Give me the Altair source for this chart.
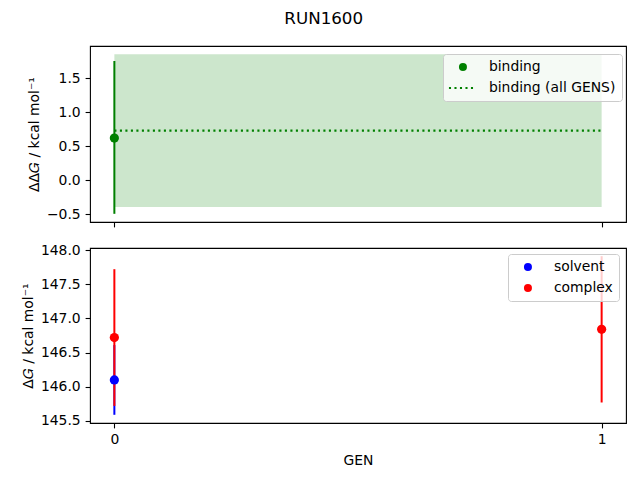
import altair as alt
import pandas as pd

# ---- data ----
binding_gen = [0]
binding_val = [0.62]
binding_lo = [-0.49]
binding_hi = [1.75]

allgens_x = [0, 1]
allgens_val = [0.73, 0.73]
allgens_lo = [-0.39, -0.39]
allgens_hi = [1.85, 1.85]

solvent_gen = [0]
solvent_val = [146.10]
solvent_lo = [145.59]
solvent_hi = [146.61]

complex_gen = [0, 1]
complex_val = [146.72, 146.84]
complex_lo = [145.72, 145.77]
complex_hi = [147.72, 147.91]

gen_ticks = [0, 1]
top_ticks = [-0.5, 0.0, 0.5, 1.0, 1.5]
bot_ticks = [145.5, 146.0, 146.5, 147.0, 147.5, 148.0]

FONT = "DejaVu Sans"
FS = 13.9
W, H = 536, 176

df_bind = pd.DataFrame({"gen": binding_gen, "val": binding_val, "lo": binding_lo,
                        "hi": binding_hi, "label": ["binding"] * len(binding_gen)})
df_all = pd.DataFrame({"gen": allgens_x, "val": allgens_val, "lo": allgens_lo, "hi": allgens_hi})
df_solv = pd.DataFrame({"gen": solvent_gen, "val": solvent_val, "lo": solvent_lo,
                        "hi": solvent_hi, "label": ["solvent"] * len(solvent_gen)})
df_cplx = pd.DataFrame({"gen": complex_gen, "val": complex_val, "lo": complex_lo,
                        "hi": complex_hi, "label": ["complex"] * len(complex_gen)})
df_pts = pd.concat([df_solv, df_cplx], ignore_index=True)

xscale = alt.Scale(domain=[-0.05, 1.05], nice=False, zero=False)
x_top = alt.X("gen:Q", scale=xscale,
              axis=alt.Axis(values=gen_ticks, labels=False, title=None))
x_bot = alt.X("gen:Q", scale=xscale,
              axis=alt.Axis(values=gen_ticks, format="d", title="GEN", titlePadding=7))

ytop_scale = alt.Scale(domain=[-0.61, 1.97], nice=False, zero=False)
ybot_scale = alt.Scale(domain=[145.47, 148.03], nice=False, zero=False)
ytop_axis = alt.Axis(values=top_ticks, format=".1f", title="ΔΔ𝐺 / kcal mol⁻¹", titlePadding=5)
ybot_axis = alt.Axis(values=bot_ticks, format=".1f", title="Δ𝐺 / kcal mol⁻¹", titlePadding=5)

legend_common = dict(
    orient="none", padding=6, title=None,
    fillColor="rgba(255,255,255,0.8)", strokeColor="#cccccc", cornerRadius=3,
    labelFont=FONT, labelFontSize=FS, labelColor="black",
    symbolOffset=7, labelOffset=19, rowPadding=6, symbolOpacity=1,
    symbolSize=64,
)

# dotted line legend symbol: small filled squares in unit symbol space
dot_path = " ".join(
    "M{a:.3f},-0.26H{b:.3f}V0.26H{a:.3f}Z".format(a=s, b=s + 0.52)
    for s in [-3.5, -2.125, -0.75, 0.625, 2.0]
)

# ---- top panel ----
band = alt.Chart(df_all).mark_area(color="green", opacity=0.2).encode(
    x=x_top, y=alt.Y("lo:Q", scale=ytop_scale, axis=ytop_axis), y2="hi:Q")
line = alt.Chart(df_all).mark_line(color="green", strokeDash=[2.1, 3.4], strokeWidth=2.1).encode(
    x=x_top, y=alt.Y("val:Q", scale=ytop_scale, axis=ytop_axis))
bind_rule = alt.Chart(df_bind).mark_rule(color="green", strokeWidth=2).encode(
    x=x_top, y=alt.Y("lo:Q", scale=ytop_scale, axis=ytop_axis), y2="hi:Q")
bind_pts = alt.Chart(df_bind).mark_point(filled=True, size=85, opacity=1, color="green").encode(
    x=x_top, y=alt.Y("val:Q", scale=ytop_scale, axis=ytop_axis),
    shape=alt.Shape("label:N",
                    scale=alt.Scale(domain=["binding", "binding (all GENS)"],
                                    range=["circle", dot_path]),
                    legend=alt.Legend(legendX=353, legendY=8,
                                      symbolFillColor="green", **legend_common)))
top = alt.layer(band, line, bind_rule, bind_pts).properties(width=W, height=H)

# ---- bottom panel ----
solv_rule = alt.Chart(df_solv).mark_rule(color="blue", strokeWidth=2).encode(
    x=x_bot, y=alt.Y("lo:Q", scale=ybot_scale, axis=ybot_axis), y2="hi:Q")
cplx_rule = alt.Chart(df_cplx).mark_rule(color="red", strokeWidth=2).encode(
    x=x_bot, y=alt.Y("lo:Q", scale=ybot_scale, axis=ybot_axis), y2="hi:Q")
pts = alt.Chart(df_pts).mark_point(filled=True, size=85, opacity=1).encode(
    x=x_bot, y=alt.Y("val:Q", scale=ybot_scale, axis=ybot_axis),
    color=alt.Color("label:N",
                    scale=alt.Scale(domain=["solvent", "complex"], range=["blue", "red"]),
                    legend=alt.Legend(symbolType="circle",
                                      legendX=418, legendY=208, **legend_common)))
bottom = alt.layer(solv_rule, cplx_rule, pts).properties(width=W, height=175)

chart = alt.vconcat(top, bottom, spacing=26, bounds="flush").properties(
    title=alt.TitleParams("RUN1600", font=FONT, fontSize=16.7, fontWeight="normal",
                          color="black", anchor="middle", offset=18),
    padding={"left": 12, "top": 2, "right": 5, "bottom": 5},
    background="white",
).configure_view(stroke="black", strokeWidth=1.1).configure_axis(
    domain=False, grid=False, ticks=True, tickColor="black", tickSize=4.9, tickWidth=1.1,
    labelFont=FONT, labelFontSize=FS, labelColor="black", labelPadding=4.9,
    titleFont=FONT, titleFontSize=FS, titleFontWeight="normal", titleColor="black",
)

chart.save("out.html", embed_options={"renderer": "svg", "actions": False})
